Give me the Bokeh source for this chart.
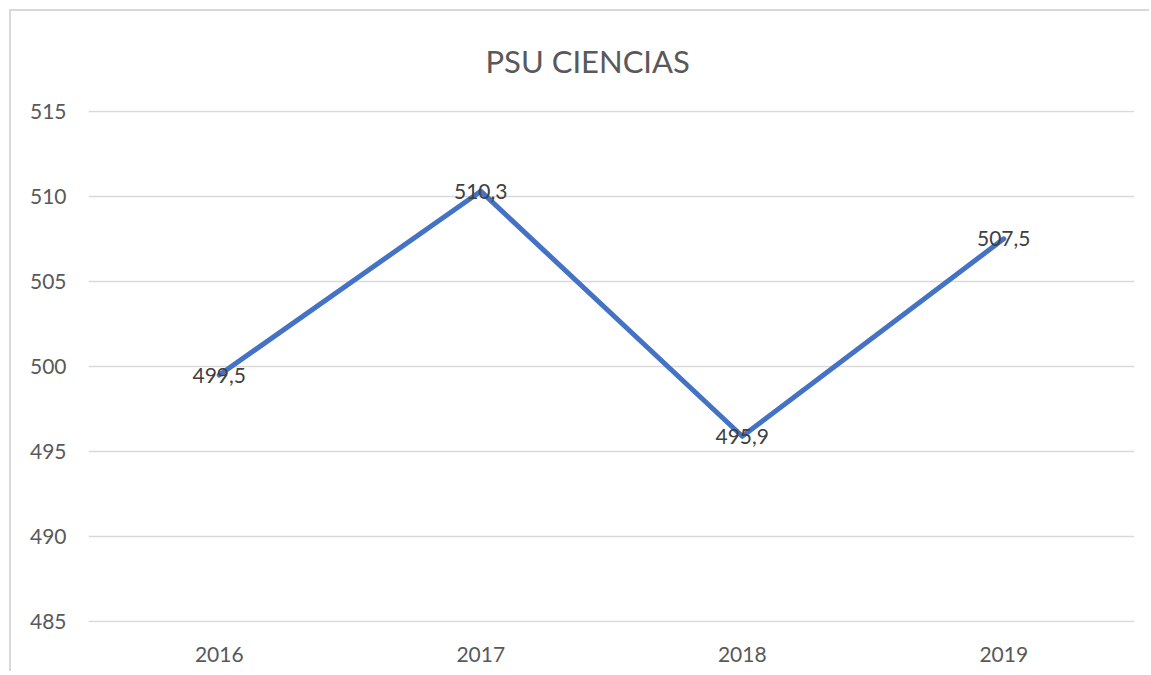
from bokeh.plotting import figure
from bokeh.models import ColumnDataSource, Range1d, FactorRange, Title
from bokeh.embed import file_html
from bokeh.resources import INLINE
from bokeh.core.properties import value

years = ["2016", "2017", "2018", "2019"]
scores = [499.5, 510.3, 495.9, 507.5]
labels = ["499,5", "510,3", "495,9", "507,5"]
y_ticks = [485, 490, 495, 500, 505, 510, 515]
title_text = "PSU CIENCIAS"

FONT = "Lato"
src = ColumnDataSource(dict(x=years, y=scores, lab=labels))

p = figure(width=1140, height=662, output_backend="svg", toolbar_location=None,
           x_range=FactorRange(*years, range_padding=0),
           y_range=Range1d(484.96, 515.04),
           min_border_left=77, min_border_right=17, min_border_top=99, min_border_bottom=51)
p.margin = (9, 0, 0, 9)
p.styles = {"border-top": "2px solid #d9d9d9", "border-left": "2px solid #d9d9d9"}
p.outline_line_color = None

t = Title(text=title_text, align="left", offset=397, vertical_align="top", standoff=57,
          text_font=FONT, text_font_size="31px", text_color="#595959", text_font_style="normal")
p.add_layout(t, "above")

p.line("x", "y", source=src, line_color="#4472C4", line_width=5, line_cap="round", line_join="round")
p.text("x", "y", text="lab", source=src, text_align="center", text_baseline="middle",
       text_font=value(FONT), text_font_size="21px", text_color="#404040")

p.yaxis.ticker = y_ticks
p.xaxis.axis_line_color = None
p.yaxis.axis_line_color = None
for ax in (p.xaxis[0], p.yaxis[0]):
    ax.major_tick_line_color = None
    ax.minor_tick_line_color = None
    ax.major_label_text_font = FONT
    ax.major_label_text_font_size = "21px"
    ax.major_label_text_color = "#595959"
p.yaxis.major_label_standoff = 16
p.xaxis.major_label_standoff = 18
p.xgrid.grid_line_color = None
p.ygrid.grid_line_color = "#d9d9d9"
p.ygrid.grid_line_width = 1.5

open("out.html", "w").write(file_html(p, INLINE))
